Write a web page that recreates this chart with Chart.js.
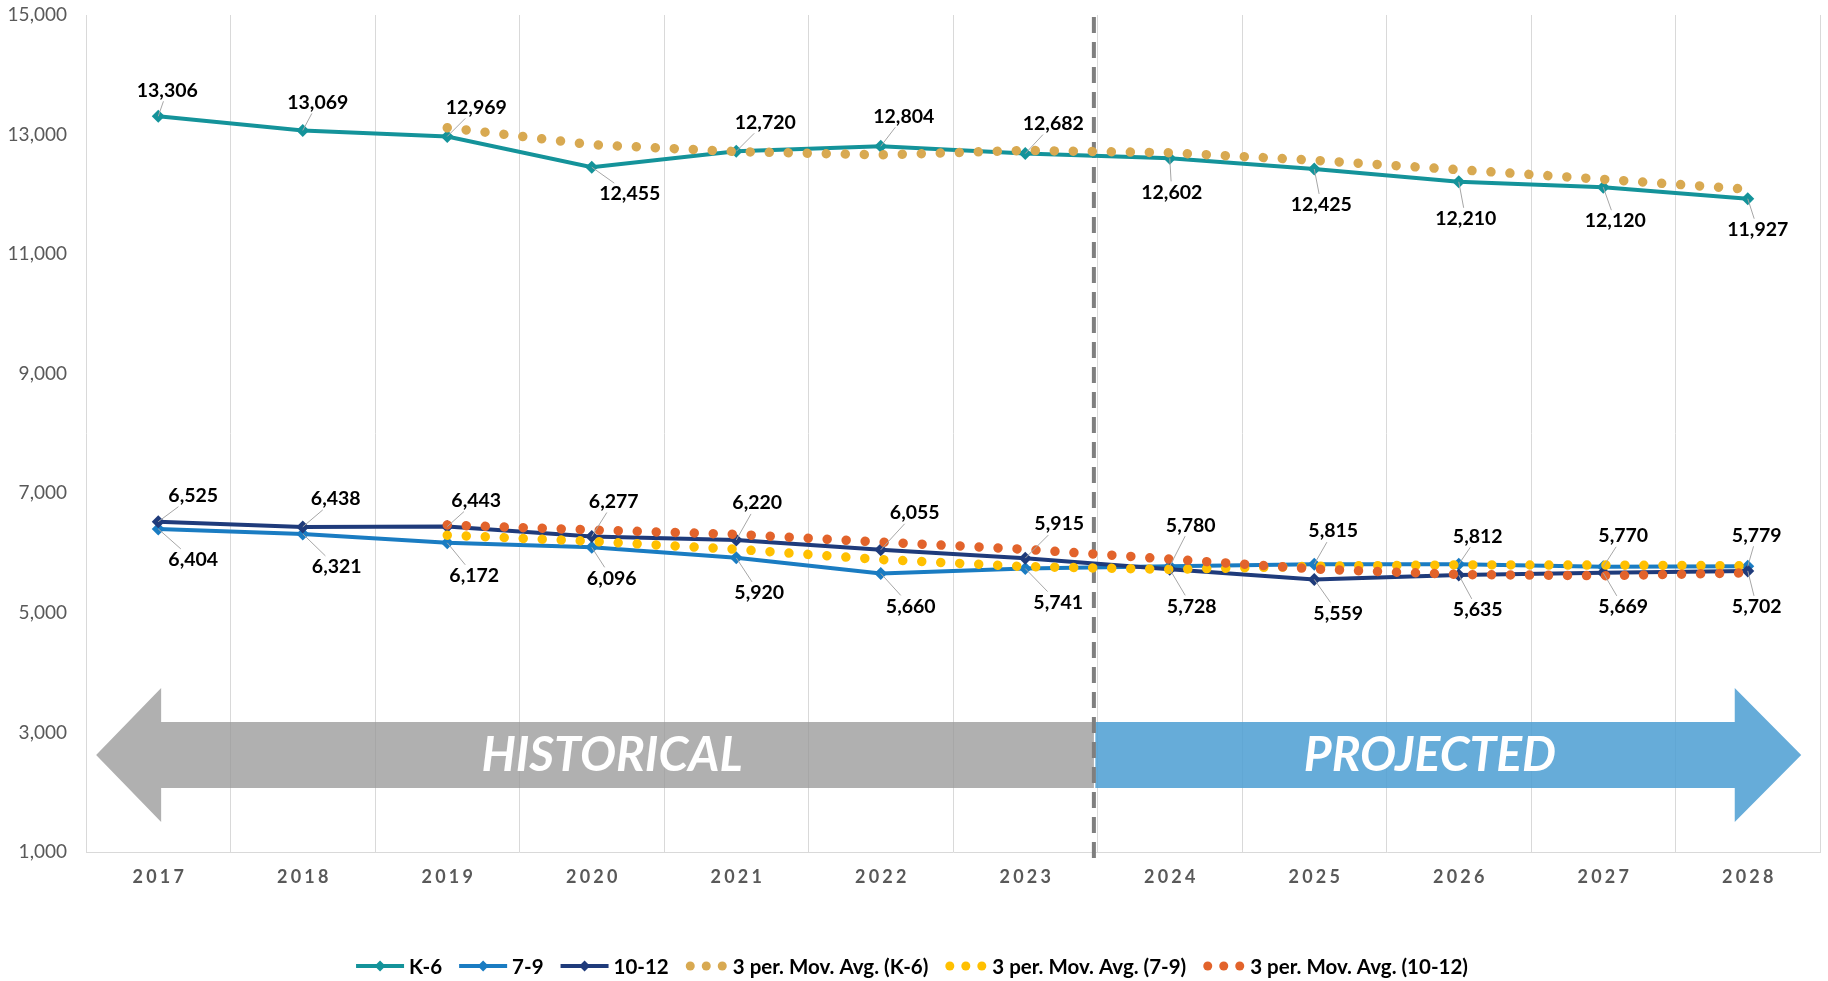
<!DOCTYPE html>
<html>
<head>
<meta charset="utf-8">
<script src="https://cdn.jsdelivr.net/npm/chart.js@4"></script>
<style>
  html, body { margin: 0; padding: 0; background: #fff; }
</style>
</head>
<body>
<canvas id="chart" width="1828" height="981"></canvas>
<script>
// ---- data ----
const years = ['2017', '2018', '2019', '2020', '2021', '2022', '2023', '2024', '2025', '2026', '2027', '2028'];
const k6 = [13306, 13069, 12969, 12455, 12720, 12804, 12682, 12602, 12425, 12210, 12120, 11927];
const g79 = [6404, 6321, 6172, 6096, 5920, 5660, 5741, 5780, 5815, 5812, 5770, 5779];
const g1012 = [6525, 6438, 6443, 6277, 6220, 6055, 5915, 5728, 5559, 5635, 5669, 5702];
// 3 period moving averages (trendlines)
const maK6 = [null, null, 13115, 12831, 12715, 12660, 12735, 12696, 12570, 12412, 12252, 12086];
const ma79 = [null, null, 6299, 6196, 6063, 5892, 5774, 5727, 5779, 5802, 5799, 5787];
const ma1012 = [null, null, 6469, 6386, 6313, 6184, 6063, 5899, 5734, 5641, 5621, 5669];
const yMin = 1000, yMax = 15000, yStep = 2000;
const periodLabels = ['HISTORICAL', 'PROJECTED'];

// label placement (pixel offsets from the point)
const k6Offsets = [[9,-26],[15,-28],[29,-29],[38,27],[29,-29],[23,-30],[28,-30],[2,34],[7,36],[7,37],[12,34],[10,31]];
const g79Offsets = [[35,31],[34,33],[27,33],[20,31],[23,35],[30,33],[33,34],[21,-41],[19,-33],[19,-28],[20,-31],[9,-31]];
const g1012Offsets = [[35,-26],[33,-28],[29,-26],[22,-35],[21,-37],[34,-37],[34,-34],[22,37],[24,34],[19,35],[20,34],[9,36]];

const FONT = 'Lato, "Noto Sans", sans-serif';
const fmt = v => v.toLocaleString('en-US');

function lineSeries(label, data, color, order, offsets) {
  return {
    label, data, order,
    borderColor: color, backgroundColor: color,
    borderWidth: 4,
    pointStyle: 'rectRot', pointRadius: 6.5, pointBorderWidth: 0,
    pointBackgroundColor: color,
    tension: 0,
    labelOffsets: offsets,
    legendKind: 'line'
  };
}
function maSeries(label, data, color, order) {
  return {
    label, data, order,
    borderColor: color, backgroundColor: color,
    borderWidth: 9.5, borderDash: [0.01, 19], borderCapStyle: 'round',
    pointRadius: 0, tension: 0,
    legendKind: 'dots'
  };
}

// arrows + dashed divider
const periodPlugin = {
  id: 'period',
  beforeDatasetsDraw(chart) {
    const {ctx, scales: {x, y}, chartArea} = chart;
    const px = i => x.getPixelForValue(i);
    const py = v => y.getPixelForValue(v);
    const bodyTop = py(3175), bodyBot = py(2071), headTop = py(3744), headBot = py(1503), mid = py(2623);
    const split = 6.475;
    ctx.save();
    // historical arrow (left)
    ctx.fillStyle = 'rgba(150,150,150,0.75)';
    ctx.beginPath();
    ctx.moveTo(px(-0.43), mid);
    ctx.lineTo(px(0.02), headTop);
    ctx.lineTo(px(0.02), bodyTop);
    ctx.lineTo(px(split), bodyTop);
    ctx.lineTo(px(split), bodyBot);
    ctx.lineTo(px(0.02), bodyBot);
    ctx.lineTo(px(0.02), headBot);
    ctx.closePath();
    ctx.fill();
    // projected arrow (right)
    ctx.fillStyle = 'rgba(75,158,210,0.85)';
    ctx.beginPath();
    ctx.moveTo(px(split + 0.01), bodyTop);
    ctx.lineTo(px(10.91), bodyTop);
    ctx.lineTo(px(10.91), headTop);
    ctx.lineTo(px(11.37), mid);
    ctx.lineTo(px(10.91), headBot);
    ctx.lineTo(px(10.91), bodyBot);
    ctx.lineTo(px(split + 0.01), bodyBot);
    ctx.closePath();
    ctx.fill();
    // texts
    ctx.fillStyle = '#ffffff';
    ctx.font = 'italic bold 48px ' + FONT;
    ctx.textAlign = 'center';
    ctx.textBaseline = 'middle';
    ctx.fillText(periodLabels[0], px(3.14), mid + 1);
    ctx.fillText(periodLabels[1], px(8.8), mid + 1);
    // dashed divider
    ctx.strokeStyle = '#7f7f7f';
    ctx.lineWidth = 4;
    ctx.setLineDash([16, 9]);
    ctx.beginPath();
    ctx.moveTo(px(split), chartArea.top + 2);
    ctx.lineTo(px(split), chartArea.bottom + 8);
    ctx.stroke();
    ctx.restore();
  }
};

// value labels with leader lines
const labelPlugin = {
  id: 'valueLabels',
  afterDatasetsDraw(chart) {
    const {ctx} = chart;
    ctx.save();
    ctx.font = 'bold 19.5px ' + FONT;
    ctx.textAlign = 'center';
    ctx.textBaseline = 'middle';
    chart.data.datasets.forEach((ds, di) => {
      if (!ds.labelOffsets) return;
      const meta = chart.getDatasetMeta(di);
      meta.data.forEach((pt, i) => {
        const txt = fmt(ds.data[i]);
        const [dx, dy] = ds.labelOffsets[i];
        const cx = pt.x + dx, cy = pt.y + dy;
        const hw = ctx.measureText(txt).width / 2 + 2, hh = 11;
        // leader line from box edge to point
        const vx = pt.x - cx, vy = pt.y - cy;
        const t = Math.min(vx !== 0 ? hw / Math.abs(vx) : Infinity, vy !== 0 ? hh / Math.abs(vy) : Infinity);
        if (t < 0.8) {
          ctx.strokeStyle = '#a6a6a6';
          ctx.lineWidth = 1;
          ctx.beginPath();
          ctx.moveTo(cx + vx * t, cy + vy * t);
          ctx.lineTo(pt.x, pt.y);
          ctx.stroke();
        }
        ctx.fillStyle = '#000000';
        ctx.fillText(txt, cx, cy);
      });
    });
    ctx.restore();
  }
};

// spaced year labels + legend
const axisLegendPlugin = {
  id: 'axisLegend',
  afterDraw(chart) {
    const {ctx, scales: {x}, chartArea} = chart;
    ctx.save();
    ctx.font = 'bold 18px ' + FONT;
    ctx.fillStyle = '#595959';
    ctx.textAlign = 'center';
    ctx.textBaseline = 'middle';
    const sp = 3.2;
    if ('letterSpacing' in ctx) ctx.letterSpacing = sp + 'px';
    years.forEach((yr, i) => {
      ctx.fillText(yr, x.getPixelForValue(i) + sp / 2, chartArea.bottom + 25);
    });
    if ('letterSpacing' in ctx) ctx.letterSpacing = '0px';

    // legend
    ctx.font = 'bold 20.5px ' + FONT;
    ctx.fillStyle = '#000000';
    ctx.textAlign = 'left';
    const legendY = 966;
    const items = chart.data.datasets.map(ds => ({
      ds, sw: ds.legendKind === 'line' ? 48 : 42, tw: ctx.measureText(ds.label).width
    }));
    const gapText = 5, gapItem = 17;
    let total = 0;
    items.forEach((it, i) => { total += it.sw + gapText + it.tw + (i < items.length - 1 ? gapItem : 0); });
    let lx = 912 - total / 2;
    items.forEach(it => {
      const c = it.ds.borderColor;
      if (it.ds.legendKind === 'line') {
        ctx.strokeStyle = c;
        ctx.lineWidth = 4;
        ctx.beginPath();
        ctx.moveTo(lx, legendY);
        ctx.lineTo(lx + it.sw, legendY);
        ctx.stroke();
        ctx.fillStyle = c;
        ctx.beginPath();
        const r = 5.5, mx = lx + it.sw / 2;
        ctx.moveTo(mx, legendY - r); ctx.lineTo(mx + r, legendY);
        ctx.lineTo(mx, legendY + r); ctx.lineTo(mx - r, legendY);
        ctx.closePath(); ctx.fill();
      } else {
        ctx.fillStyle = c;
        [4.5, 20.5, 36.5].forEach(o => {
          ctx.beginPath();
          ctx.arc(lx + o, legendY, 4.5, 0, Math.PI * 2);
          ctx.fill();
        });
      }
      ctx.fillStyle = '#000000';
      ctx.fillText(it.ds.label, lx + it.sw + gapText, legendY + 1);
      lx += it.sw + gapText + it.tw + gapItem;
    });
    ctx.restore();
  }
};

const chart = new Chart(document.getElementById('chart').getContext('2d'), {
  type: 'line',
  data: {
    labels: years,
    datasets: [
      lineSeries('K-6', k6, '#14939a', 6, k6Offsets),
      lineSeries('7-9', g79, '#1a7cc2', 5, g79Offsets),
      lineSeries('10-12', g1012, '#1f3b7b', 4, g1012Offsets),
      maSeries('3 per. Mov. Avg. (K-6)', maK6, '#d8a951', 3),
      maSeries('3 per. Mov. Avg. (7-9)', ma79, '#ffc000', 2),
      maSeries('3 per. Mov. Avg. (10-12)', ma1012, '#e2632b', 1)
    ]
  },
  options: {
    responsive: false,
    animation: false,
    events: [],
    devicePixelRatio: 1,
    layout: { padding: { top: 15, right: 8, bottom: 0, left: 0 } },
    plugins: { legend: { display: false }, tooltip: { enabled: false } },
    scales: {
      x: {
        offset: true,
        grid: { display: true, offset: true, color: '#d9d9d9', lineWidth: 1, drawTicks: false },
        border: { display: true, color: '#d9d9d9' },
        ticks: { display: false },
        afterFit(scale) { scale.height = 129; scale.paddingLeft = 0; scale.paddingRight = 0; }
      },
      y: {
        min: yMin, max: yMax,
        grid: { display: false },
        border: { display: false },
        ticks: {
          stepSize: yStep,
          padding: 11,
          color: '#595959',
          font: { family: FONT, size: 19 },
          callback: v => fmt(v)
        },
        afterFit(scale) { scale.width = 86; scale.paddingTop = 0; scale.paddingBottom = 0; }
      }
    }
  },
  plugins: [periodPlugin, labelPlugin, axisLegendPlugin]
});
</script>
</body>
</html>
